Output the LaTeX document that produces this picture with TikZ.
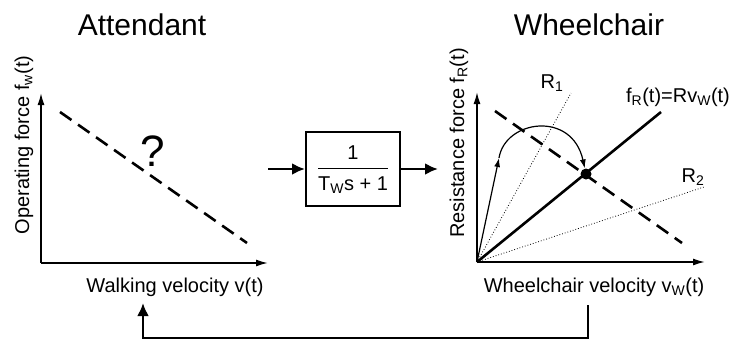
\documentclass[tikz,border=0pt]{standalone}
\usepackage{fontspec}
\setmainfont{Liberation Sans}
\usetikzlibrary{arrows.meta}
\tikzset{axis/.style={line width=1.6pt,-{Latex[length=12pt,width=7pt]}},
  flow/.style={line width=2.6pt,-{Latex[length=13pt,width=12pt]}},
  block/.style={draw,line width=2pt,minimum width=94pt,minimum height=74pt,inner sep=0pt},
  title/.style={font=\fontsize{30}{36}\selectfont}}

\begin{document}
\begin{tikzpicture}[x=1pt,y=-1pt,font=\fontsize{20}{24}\selectfont,
  guess/.style={line width=2.6pt,dash pattern=on 14pt off 8pt},
  ratio/.style={line width=0.8pt,dotted},
  path/.style={line width=1.2pt,-{Latex[length=9pt,width=6pt]}}]
\useasboundingbox (0,0) rectangle (731,341);

\node[title] (att) at (142,25) {Attendant};
\node[title] (whc) at (589,25) {Wheelchair};

\coordinate (lo) at (41,263);
\coordinate (ly) at (41,93);
\coordinate (lx) at (268,263);
\draw[axis] (lo) -- (ly);
\draw[axis] (lo) -- (lx);
\node[rotate=90] (lyl) at (24,145) {Operating force f\textsubscript{w}(t)};
\node[anchor=base] (lxl) at (175,292) {Walking velocity v(t)};
\coordinate (la) at (60,112);
\coordinate (lb) at (247,243);
\draw[guess] (la) -- (lb);
\node[font=\fontsize{44}{50}\selectfont] (q) at (153,151) {?};

\node[block] (tf) at (353,169) {\renewcommand{\arraystretch}{1.2}%
  \begin{tabular}{@{}c@{}}1\\\hline\rule{0pt}{22pt}T\textsubscript{W}s + 1\end{tabular}};
\coordinate (tfin) at (268,169);
\coordinate (tfout) at (438,169);
\draw[flow] (tfin) -- (tf.west);
\draw[flow] (tf.east) -- (tfout);

\coordinate (ro) at (477,262);
\coordinate (ry) at (477,92);
\coordinate (rx) at (705,262);
\draw[axis] (ro) -- (ry);
\draw[axis] (ro) -- (rx);
\node[rotate=90] (ryl) at (459,143) {Resistance force f\textsubscript{R}(t)};
\node[anchor=base] (rxl) at (594,292) {Wheelchair velocity v\textsubscript{W}(t)};
\coordinate (r1) at (571,93);
\coordinate (r2) at (704,187);
\coordinate (rl) at (661,112);
\draw[ratio] (ro) -- (r1);
\draw[ratio] (ro) -- (r2);
\draw[line width=2.6pt] (ro) -- (rl);
\node (r1l) at (552,83) {R\textsubscript{1}};
\node (r2l) at (693,177) {R\textsubscript{2}};
\node (rll) at (678,97) {f\textsubscript{R}(t)=Rv\textsubscript{W}(t)};
\coordinate (ra) at (495,111);
\coordinate (rb) at (682,243);
\draw[guess] (ra) -- (rb);
\node[circle,fill,inner sep=0pt,minimum size=11pt] (op) at (586,174) {};
\coordinate (kick) at (499,158);
\draw[path] (ro) -- (kick);
\draw[path] (kick) .. controls (505,120) and (572,110) .. (op);

\coordinate (fbs) at (588,305);
\coordinate (fbe) at (143,303);
\draw[flow] (fbs) -- ++(0,33) -| (fbe);
\end{tikzpicture}
\end{document}
